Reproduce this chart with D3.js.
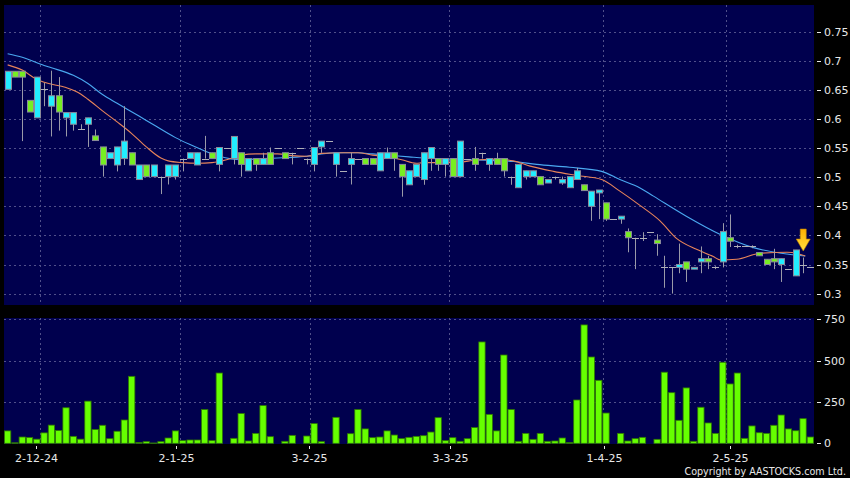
<!DOCTYPE html>
<html><head><meta charset="utf-8">
<script src="https://cdn.jsdelivr.net/npm/d3@7"></script>
<style>body{margin:0;background:#000;overflow:hidden} svg{display:block}</style>
</head><body><svg id="c" width="850" height="478"></svg>
<script>
// ---- data ----
const opens = [.651,.682,.682,.632,.602,.651,.622,.640,.602,.591,.582,.591,.571,.552,.532,.521,.532,.542,.496,.521,
.501,.501,.501,.501,.532,.532,.521,.532,.542,.522,.551,.532,.542,.511,.532,.522,.542,.551,.542,.542,
.551,.532,.522,.552,.562,.522,.511,.522,.532,.532,.532,.511,.532,.542,.522,.487,.501,.496,.532,.532,
.522,.532,.501,.532,.532,.542,.522,.532,.532,.501,.482,.501,.501,.501,.490,.501,.490,.482,.496,.487,
.450,.473,.456,.428,.428,.4065,.396,.396,.4055,.392,.345,.345,.345,.3545,.342,.3545,.360,.345,.3545,.396,
.381,.381,.381,.3705,.359,.360,.350,.342,.3305,.350,.345];
const highs = [.682,.682,.682,.632,.672,.662,.683,.672,.611,.611,.591,.602,.582,.552,.542,.552,.622,.542,.521,.521,
.521,.501,.521,.521,.532,.542,.542,.571,.542,.551,.551,.570,.542,.532,.532,.542,.551,.551,.542,.542,
.551,.532,.551,.562,.562,.542,.511,.542,.532,.532,.532,.542,.551,.542,.522,.511,.522,.542,.551,.532,
.532,.532,.562,.532,.552,.542,.532,.542,.532,.501,.522,.511,.511,.501,.496,.501,.501,.501,.516,.487,
.476,.478,.456,.428,.433,.412,.396,.4055,.4055,.402,.365,.345,.386,.3545,.345,.381,.365,.347,.421,.436,
.384,.381,.383,.3705,.359,.377,.360,.342,.375,.362,.345];
const lows = [.651,.672,.562,.612,.602,.622,.570,.580,.570,.580,.582,.552,.563,.501,.532,.510,.521,.521,.496,.501,
.501,.471,.4875,.496,.510,.532,.521,.532,.532,.510,.551,.522,.501,.511,.511,.522,.522,.551,.532,.522,
.551,.522,.510,.542,.562,.501,.511,.4875,.532,.522,.522,.511,.532,.511,.4665,.487,.501,.487,.511,.511,
.501,.501,.501,.532,.511,.532,.511,.522,.501,.487,.482,.496,.501,.487,.490,.496,.487,.482,.496,.477,
.425,.428,.425,.428,.420,.371,.342,.3904,.4055,.365,.310,.300,.335,.320,.342,.335,.342,.342,.345,.380,
.378,.381,.378,.365,.350,.342,.320,.342,.3305,.335,.345];
const closes = [.682,.672,.672,.612,.672,.651,.640,.612,.611,.611,.582,.602,.563,.521,.542,.552,.562,.521,.521,.501,
.521,.501,.521,.521,.532,.542,.542,.532,.532,.551,.551,.570,.522,.532,.522,.532,.522,.551,.532,.542,
.551,.532,.551,.562,.562,.542,.511,.532,.532,.522,.522,.542,.542,.532,.501,.511,.522,.542,.551,.522,
.532,.501,.562,.532,.522,.542,.532,.522,.511,.501,.522,.511,.511,.487,.496,.501,.496,.501,.511,.477,
.476,.478,.428,.428,.433,.396,.396,.396,.4055,.386,.345,.345,.350,.342,.345,.360,.3545,.345,.4065,.390,
.381,.381,.381,.365,.350,.3545,.360,.342,.375,.350,.345];
const volumes = [75,3,38,35,25,63,110,77,215,42,25,255,83,109,28,73,141,405,5,10,
2,10,32,75,16,20,20,204,16,425,0,30,180,14,60,228,40,0,12,48,
0,44,119,10,0,157,0,58,204,87,34,38,75,50,28,36,42,46,68,155,
16,34,12,28,95,613,175,75,534,204,12,60,24,60,12,14,32,4,262,716,
522,381,183,0,60,14,28,36,0,24,430,306,139,335,12,218,123,60,490,359,
425,30,105,64,60,109,171,87,76,149,38];
// moving averages, read at sample bar positions
const ma20Idx = [0,2,5,6,9,11,13,15,18,20,23,25,27,29,32,35,37,39,41,43,45,48,50,52,55,57,61,65.6,69.3,72.5,77,81.4,83.9,86.6,88.5,93,97.6,102.2,106.8,109.3];
const ma20Val = [.712,.706,.692,.688,.675,.661,.642,.627,.605,.590,.568,.556,.545,.536,.530,.532,.533,.534,.536,.540,.542,.542,.540,.538,.535,.533,.531,.529,.527,.522,.517,.510,.496,.482,.4675,.433,.402,.379,.368,.3645];
const ma10Idx = [0,2,4,5,8,10,11,13,15,17,19,21,22,24,26,28,30,32,34,37,39,41,43,46,48,50,52,54,56,57,61,64.7,67,69.3,71.6,74.8,78,81.4,83.9,86.6,89.4,91.7,94.4,96.7,97.6,99.9,103.1,106.8,108.2,109.3];
const ma10Val = [.693,.684,.668,.663,.654,.643,.634,.614,.595,.575,.552,.533,.528,.525,.524,.525,.530,.538,.540,.540,.537,.536,.541,.542,.542,.538,.535,.530,.524,.525,.525,.530,.531,.528,.519,.510,.503,.496,.476,.452,.425,.3945,.376,.3637,.358,.359,.3694,.371,.369,.3645];
const priceTicks = [0.3,0.35,0.4,0.45,0.5,0.55,0.6,0.65,0.7,0.75];
const volTicks = [0,250,500,750];
const dateLabels = ["2-12-24","2-1-25","3-2-25","3-3-25","1-4-25","2-5-25"];
const dateLabelIdx = [3.95,23.1,41.3,60.6,81.75,99.0];
const dateGridIdx = [4.45,23.55,41.5,60.55,81.6,98.4];

// ---- drawing ----
const svg = d3.select("#c");
const n = closes.length;
const L = 4, R = 814;
const pTop = 5, pBot = 305, vTop = 318, vBot = 444;
const x = d3.scaleLinear().domain([-0.5, n - 0.5]).range([L, R]);
const y = d3.scaleLinear().domain([0.3, 0.75]).range([293.6, 31.7]);
const yv = d3.scaleLinear().domain([0, 750]).range([443.3, 319.3]);
const bg = "#00004e", grid = "#50508a", txt = "#e8e8e8";
const font = "DejaVu Sans, Verdana, sans-serif";

svg.append("rect").attr("width",850).attr("height",478).attr("fill","#000");
svg.append("rect").attr("x",L).attr("y",pTop).attr("width",R-L).attr("height",pBot-pTop).attr("fill",bg);
svg.append("rect").attr("x",L).attr("y",vTop).attr("width",R-L).attr("height",vBot-vTop).attr("fill",bg);

// horizontal gridlines + right axis
const gP = svg.append("g");
priceTicks.forEach(t => {
  const yy = Math.round(y(t)) + 0.5;
  gP.append("line").attr("x1",L).attr("x2",R).attr("y1",yy).attr("y2",yy)
    .attr("stroke",grid).attr("stroke-width",1).attr("stroke-dasharray","2,3");
  gP.append("line").attr("x1",817).attr("x2",821).attr("y1",yy).attr("y2",yy).attr("stroke",txt);
  gP.append("text").attr("x",824).attr("y",y(t)+4).attr("fill",txt)
    .attr("font-family",font).attr("font-size",11).text(String(t));
});
volTicks.forEach(t => {
  const yy = Math.round(yv(t)) + 0.5;
  if (t > 0) svg.append("line").attr("x1",L).attr("x2",R).attr("y1",yy).attr("y2",yy)
    .attr("stroke",grid).attr("stroke-dasharray","2,3");
  svg.append("line").attr("x1",817).attr("x2",821).attr("y1",yy).attr("y2",yy).attr("stroke",txt);
  svg.append("text").attr("x",824).attr("y",yv(t)+4).attr("fill",txt)
    .attr("font-family",font).attr("font-size",11).text(String(t));
});
// vertical gridlines
dateGridIdx.forEach(d => {
  const xx = Math.round(x(d)) + 0.5;
  svg.append("line").attr("x1",xx).attr("x2",xx).attr("y1",pTop).attr("y2",pBot).attr("stroke",grid).attr("stroke-dasharray","2,3");
  svg.append("line").attr("x1",xx).attr("x2",xx).attr("y1",vTop).attr("y2",vBot).attr("stroke",grid).attr("stroke-dasharray","2,3");
});
// x labels
dateLabels.forEach((lab,i) => {
  const xx = Math.round(x(dateLabelIdx[i])) + 0.5;
  svg.append("line").attr("x1",xx).attr("x2",xx).attr("y1",446).attr("y2",449).attr("stroke",txt);
  svg.append("text").attr("x",xx).attr("y",462).attr("text-anchor","middle").attr("fill",txt)
    .attr("font-family",font).attr("font-size",11).text(lab);
});
svg.append("text").attr("x",846).attr("y",475).attr("text-anchor","end").attr("fill",txt)
  .attr("font-family",font).attr("font-size",9.6).text("Copyright by AASTOCKS.com Ltd.");

// volume bars
const bw = 6.3;
svg.append("g").selectAll("rect").data(volumes).join("rect")
  .attr("x",(d,i)=>x(i)-bw/2).attr("width",bw)
  .attr("y",d=>yv(d)).attr("height",d=>Math.max(0,yv(0)-yv(d)))
  .attr("fill","#66ff00").attr("stroke","#2f7a00").attr("stroke-width",0.8);

// MA lines
svg.append("clipPath").attr("id","pc").append("rect").attr("x",L).attr("y",pTop).attr("width",R-L).attr("height",pBot-pTop);
const lineGen = d3.line().x(d=>x(d[0])).y(d=>y(d[1])).curve(d3.curveMonotoneX);
svg.append("path").datum(ma20Idx.map((d,i)=>[d,ma20Val[i]])).attr("d",lineGen)
  .attr("fill","none").attr("stroke","#4aa8f0").attr("stroke-width",1.1).attr("clip-path","url(#pc)");
svg.append("path").datum(ma10Idx.map((d,i)=>[d,ma10Val[i]])).attr("d",lineGen)
  .attr("fill","none").attr("stroke","#e8845a").attr("stroke-width",1.1).attr("clip-path","url(#pc)");

// candles
const cw = 6;
const gC = svg.append("g");
closes.forEach((c,i) => {
  const o = opens[i], h = highs[i], l = lows[i];
  const xc = Math.round(x(i)) + 0.5;
  gC.append("line").attr("x1",xc).attr("x2",xc).attr("y1",y(h)).attr("y2",y(l)).attr("stroke","#9a9aa8").attr("stroke-width",1);
  if (Math.abs(c - o) < 1e-6) {
    gC.append("line").attr("x1",xc-cw/2-0.5).attr("x2",xc+cw/2+0.5).attr("y1",Math.round(y(c))+0.5).attr("y2",Math.round(y(c))+0.5)
      .attr("stroke","#b0b0b8").attr("stroke-width",1);
  } else {
    const top = y(Math.max(o,c)), bot = y(Math.min(o,c));
    gC.append("rect").attr("x",xc-cw/2).attr("width",cw).attr("y",top).attr("height",Math.max(1,bot-top))
      .attr("fill", c > o ? "#22eeff" : "#77ee22").attr("stroke","#8a8a9a").attr("stroke-width",1);
  }
});

// marker arrow at the latest moving-average point
const ax = x(ma20Idx[ma20Idx.length-1]) - 2, ay = y(ma20Val[ma20Val.length-1]) - 5;
const grad = svg.append("defs").append("linearGradient").attr("id","ag").attr("x1",0).attr("x2",0).attr("y1",0).attr("y2",1);
grad.append("stop").attr("offset","0%").attr("stop-color","#ffb000");
grad.append("stop").attr("offset","100%").attr("stop-color","#ffe040");
svg.append("path").attr("d",`M${ax-3},${ay-22} L${ax+3},${ay-22} L${ax+3},${ay-12} L${ax+7},${ay-12} L${ax},${ay} L${ax-7},${ay-12} L${ax-3},${ay-12} Z`)
  .attr("fill","url(#ag)").attr("stroke","#c08000").attr("stroke-width",0.6);
</script></body></html>
